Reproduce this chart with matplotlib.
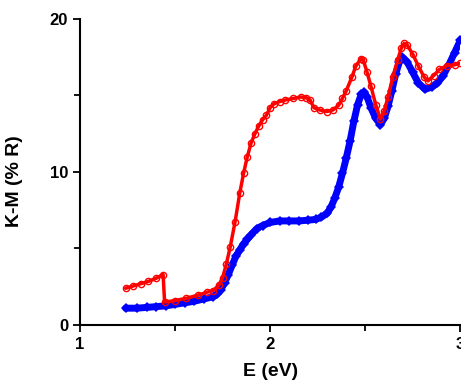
import matplotlib
matplotlib.use("Agg")
import matplotlib.pyplot as plt
from matplotlib.ticker import MultipleLocator

plt.rcParams['font.family'] = ['Liberation Sans', 'DejaVu Sans']
plt.rcParams['font.weight'] = 'bold'

# 红色曲线（空心圆）
red_x = [1.24, 1.28, 1.32, 1.36, 1.40, 1.437, 1.445, 1.50, 1.56, 1.62, 1.67, 1.70,
         1.73, 1.75, 1.77, 1.79, 1.815, 1.84, 1.86, 1.88, 1.90, 1.92, 1.94, 1.96,
         1.98, 2.00, 2.02, 2.05, 2.08, 2.12, 2.16, 2.19, 2.21, 2.23, 2.26, 2.30,
         2.33, 2.36, 2.38, 2.40, 2.43, 2.45, 2.477, 2.49, 2.51, 2.53, 2.555, 2.58,
         2.60, 2.62, 2.645, 2.67, 2.69, 2.705, 2.72, 2.75, 2.78, 2.81, 2.83, 2.86,
         2.89, 2.93, 2.97, 3.00]
red_y = [2.4, 2.55, 2.7, 2.85, 3.05, 3.3, 1.5, 1.6, 1.75, 1.95, 2.15, 2.25,
         2.6, 3.1, 4.0, 5.1, 6.7, 8.6, 9.9, 11.0, 11.9, 12.5, 13.0, 13.4,
         13.7, 14.2, 14.45, 14.6, 14.7, 14.8, 14.9, 14.85, 14.7, 14.2, 14.05, 13.95,
         14.05, 14.35, 14.8, 15.3, 16.2, 16.9, 17.4, 17.3, 16.5, 15.6, 14.4, 13.45,
         14.0, 14.9, 16.2, 17.3, 18.1, 18.4, 18.3, 17.7, 16.9, 16.2, 15.95, 16.3,
         16.7, 16.95, 17.0, 17.1]

# 蓝色曲线（实心菱形）
blue_x = [1.24, 1.30, 1.35, 1.40, 1.45, 1.50, 1.55, 1.60, 1.65, 1.70, 1.72, 1.74,
          1.76, 1.78, 1.80, 1.82, 1.84, 1.86, 1.88, 1.90, 1.93, 1.96, 2.00, 2.05,
          2.10, 2.15, 2.20, 2.24, 2.27, 2.30, 2.32, 2.34, 2.36, 2.38, 2.40, 2.42,
          2.44, 2.46, 2.48, 2.495, 2.51, 2.53, 2.555, 2.58, 2.60, 2.62, 2.64, 2.66,
          2.68, 2.695, 2.72, 2.75, 2.78, 2.815, 2.85, 2.88, 2.91, 2.94, 2.97, 3.00]
blue_y = [1.1, 1.1, 1.15, 1.2, 1.25, 1.35, 1.45, 1.55, 1.7, 1.85, 2.0, 2.3,
          2.75, 3.3, 3.9, 4.5, 4.9, 5.3, 5.6, 5.9, 6.3, 6.5, 6.7, 6.8,
          6.8, 6.8, 6.85, 6.9, 7.05, 7.3, 7.7, 8.3, 9.0, 9.9, 10.9, 12.0,
          13.3, 14.4, 15.1, 15.2, 14.9, 14.2, 13.5, 13.1, 13.5, 14.3, 15.3, 16.4,
          17.2, 17.5, 17.2, 16.5, 15.8, 15.4, 15.55, 15.8, 16.3, 17.0, 17.8, 18.6]

fig = plt.figure(figsize=(4.61, 3.86), dpi=100)
ax = fig.add_axes([0.1735, 0.158, 0.825, 0.793])

ax.plot(blue_x, blue_y, '-', color='#0000ff', lw=5, solid_capstyle='round', zorder=2)
ax.plot(blue_x, blue_y, 'D', color='#0000ff', ms=5, mew=0, zorder=2)
ax.plot(red_x, red_y, '-', color='#ff0000', lw=2.5, solid_capstyle='round', zorder=3)
ax.plot(red_x, red_y, 'o', color='#ff0000', ms=4.5, mfc='none', mew=1, zorder=3)

ax.set_xlim(1, 3)
ax.set_ylim(0, 20)
ax.xaxis.set_major_locator(MultipleLocator(1))
ax.xaxis.set_minor_locator(MultipleLocator(0.5))
ax.yaxis.set_major_locator(MultipleLocator(10))
ax.yaxis.set_minor_locator(MultipleLocator(5))

for s in ['top', 'right']:
    ax.spines[s].set_visible(False)
for s in ['left', 'bottom']:
    ax.spines[s].set_linewidth(1.5)

ax.tick_params(which='major', direction='out', length=5, width=1.3, labelsize=12)
ax.tick_params(which='minor', direction='out', length=4, width=1.3)
for lab in ax.get_xticklabels() + ax.get_yticklabels():
    lab.set_fontweight('bold')

ax.set_xlabel("E (eV)", fontsize=14, fontweight='bold', labelpad=8)
ax.set_ylabel("K-M (% R)", fontsize=14, fontweight='bold', labelpad=10)
ax.yaxis.set_label_coords(-0.15, 0.47)

fig.savefig("out.png", dpi=100)
